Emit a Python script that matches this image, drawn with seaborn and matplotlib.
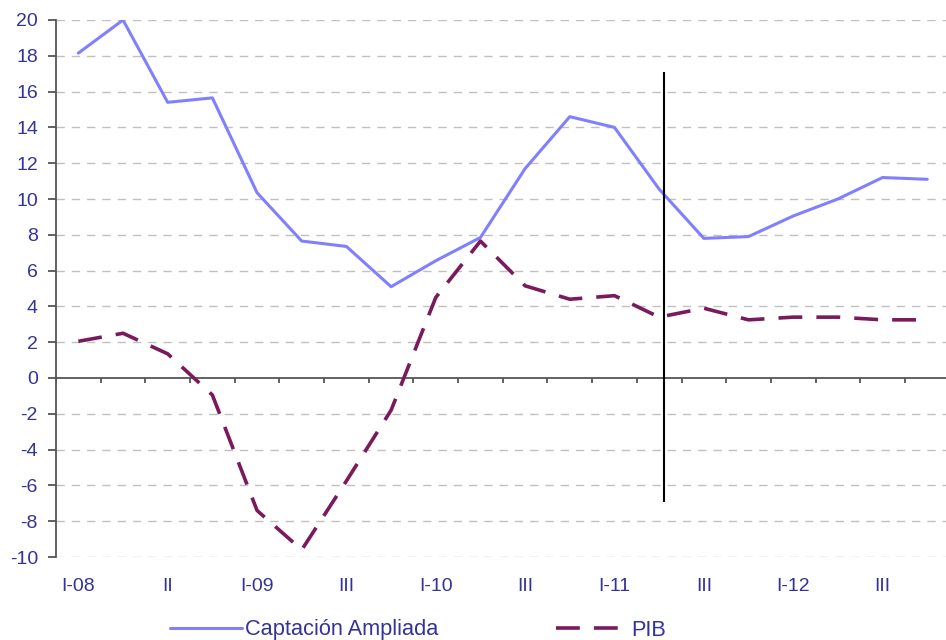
import matplotlib
matplotlib.use("Agg")
import matplotlib.pyplot as plt
import seaborn as sns
import numpy as np
import pandas as pd

quarters = ["I-08", "II-08", "III-08", "IV-08", "I-09", "II-09", "III-09", "IV-09",
            "I-10", "II-10", "III-10", "IV-10", "I-11", "II-11", "III-11", "IV-11",
            "I-12", "II-12", "III-12", "IV-12"]
captacion = [18.15, 20.0, 15.4, 15.65, 10.35, 7.65, 7.35, 5.1, 6.55, 7.85,
             11.7, 14.6, 14.0, 10.55, 7.8, 7.9, 9.05, 10.0, 11.2, 11.1]
pib = [2.05, 2.5, 1.35, -0.95, -7.4, -9.6, -5.75, -1.8, 4.5, 7.65,
       5.15, 4.4, 4.6, 3.4, 3.9, 3.25, 3.4, 3.4, 3.25, 3.25]
tick_idx = [0, 2, 4, 6, 8, 10, 12, 14, 16, 18]
tick_labels = ["I-08", "II", "I-09", "III", "I-10", "III", "I-11", "III", "I-12", "III"]
forecast_pos = 13.1
forecast_range = (-6.9, 17.1)

sns.set_theme(style="white")
plt.rcParams['font.family'] = ['Liberation Sans', 'DejaVu Sans']
plt.rcParams['axes.unicode_minus'] = False

txt_color = "#333399"
axis_color = "#555555"
pib_dash = (6.6, 3.9)

fig = plt.figure(figsize=(9.46, 6.40), dpi=100)
ax = fig.add_axes([56/946, 1-557/640, (946-56)/946, (557-20)/640])

x = np.arange(len(quarters))
df = pd.DataFrame({"x": x, "Captación Ampliada": captacion, "PIB": pib})

sns.lineplot(data=df, x="x", y="Captación Ampliada", ax=ax, color="#8080ff",
             linewidth=2.2, label="Captación Ampliada")
sns.lineplot(data=df, x="x", y="PIB", ax=ax, color="#7a1a5c",
             linewidth=2.6, label="PIB")
ax.lines[-1].set_dashes(pib_dash)

ax.set_xlim(-0.5, 19.42)
ax.set_ylim(-10, 20)
ax.set_yticks(np.arange(-10, 21, 2))
for yv in np.arange(-10, 21, 2):
    if yv != 0:
        ax.axhline(yv, color="#c0c0c0", lw=1, ls=(0, (6, 5)), zorder=0)

ax.axhline(0, color=axis_color, lw=1.3, zorder=1)
bounds = np.arange(-0.5, 19.6, 1.0)
ax.vlines(bounds, -0.3, 0, color=axis_color, lw=1.3, zorder=1)

ax.vlines(forecast_pos, forecast_range[0], forecast_range[1], color="black", lw=1.5, zorder=3)

for s in ["top", "right", "bottom"]:
    ax.spines[s].set_visible(False)
ax.spines["left"].set_color(axis_color)
ax.spines["left"].set_linewidth(1.3)

ax.set_xticks(tick_idx)
ax.set_xticklabels(tick_labels)
ax.tick_params(axis="x", length=0, pad=15, labelsize=14, labelcolor=txt_color)
ax.tick_params(axis="y", length=6, width=1.3, color=axis_color, direction="out",
               left=True, pad=7, labelsize=14, labelcolor=txt_color)
ax.set_xlabel("")
ax.set_ylabel("")

leg = ax.legend(loc="center", bbox_to_anchor=(418/946, 1-630/640), bbox_transform=fig.transFigure,
                ncol=2, frameon=False, fontsize=15.7, handlelength=3.3, columnspacing=5.4,
                handletextpad=0.15, borderaxespad=0, borderpad=0)
for t in leg.get_texts():
    t.set_color(txt_color)
leg.get_lines()[1].set_dashes(pib_dash)

fig.savefig("out.png", dpi=100)
